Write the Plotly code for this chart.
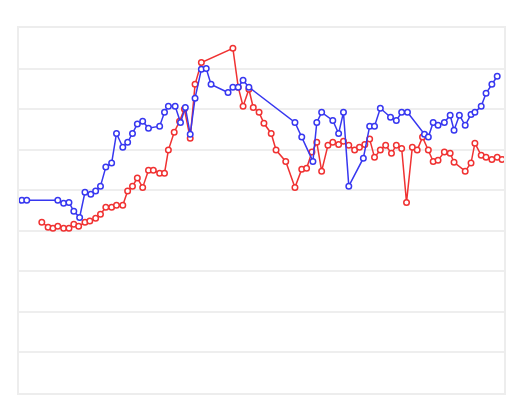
import plotly.graph_objects as go

blue_x = [0.6, 1.6, 8.0, 9.2, 10.3, 11.3, 12.5, 13.6, 14.8, 15.8,
          16.8, 17.9, 19.1, 20.1, 21.4, 22.4, 23.4, 24.4, 25.5, 26.7,
          29.0, 30.0, 30.8, 32.2, 33.3, 34.3, 35.3, 36.3, 37.6, 38.6,
          39.6, 43.1, 44.1, 45.2, 46.2, 47.4, 56.9, 58.3, 60.6, 61.4,
          62.4, 64.7, 65.9, 66.9, 68.0, 71.0, 72.3, 73.3, 74.5, 76.6,
          77.8, 78.9, 80.1, 83.6, 84.4, 85.4, 86.4, 87.7, 88.9, 89.7,
          90.8, 92.0, 93.2, 94.0, 95.3, 96.3, 97.5, 98.6]
blue_y = [4.75, 4.75, 4.75, 4.68, 4.70, 4.48, 4.33, 4.95, 4.90, 4.98,
          5.10, 5.57, 5.67, 6.40, 6.06, 6.18, 6.40, 6.63, 6.70, 6.53,
          6.58, 6.92, 7.07, 7.07, 6.67, 7.04, 6.38, 7.27, 7.98, 8.00,
          7.61, 7.41, 7.54, 7.54, 7.71, 7.54, 6.67, 6.31, 5.71, 6.67,
          6.92, 6.72, 6.40, 6.92, 5.10, 5.79, 6.58, 6.58, 7.02, 6.80,
          6.72, 6.92, 6.92, 6.38, 6.31, 6.67, 6.60, 6.67, 6.85, 6.48,
          6.85, 6.60, 6.87, 6.92, 7.07, 7.39, 7.61, 7.81]

red_x = [4.7, 6.0, 7.0, 8.0, 9.2, 10.3, 11.3, 12.3, 13.6, 14.6,
         15.8, 16.8, 17.9, 19.1, 20.1, 21.4, 22.4, 23.4, 24.4, 25.5,
         26.7, 27.7, 29.0, 30.0, 30.8, 32.0, 33.1, 34.1, 35.3, 36.3,
         37.6, 44.1, 45.2, 46.2, 47.4, 48.3, 49.5, 50.5, 52.0, 53.0,
         55.0, 56.9, 58.3, 59.3, 60.4, 61.4, 62.4, 63.7, 64.7, 65.9,
         66.9, 68.0, 69.2, 70.2, 71.3, 72.3, 73.3, 74.5, 75.6, 76.8,
         77.8, 78.9, 79.9, 81.1, 82.1, 83.2, 84.4, 85.4, 86.4, 87.7,
         88.9, 89.7, 92.0, 93.2, 94.0, 95.3, 96.3, 97.5, 98.6, 99.6]
red_y = [4.21, 4.09, 4.06, 4.11, 4.06, 4.06, 4.16, 4.11, 4.21, 4.24,
         4.31, 4.41, 4.58, 4.58, 4.63, 4.63, 4.98, 5.10, 5.30, 5.07,
         5.49, 5.49, 5.42, 5.42, 5.99, 6.43, 6.70, 7.00, 6.28, 7.61,
         8.15, 8.50, 7.54, 7.07, 7.49, 7.04, 6.92, 6.65, 6.40, 5.99,
         5.71, 5.07, 5.52, 5.54, 5.94, 6.18, 5.47, 6.11, 6.18, 6.13,
         6.21, 6.11, 5.99, 6.06, 6.13, 6.26, 5.81, 5.99, 6.11, 5.91,
         6.11, 6.03, 4.70, 6.06, 5.99, 6.31, 5.99, 5.71, 5.74, 5.94,
         5.91, 5.69, 5.47, 5.67, 6.16, 5.86, 5.81, 5.76, 5.81, 5.76]

RED = "rgb(240,50,50)"
BLUE = "rgb(55,55,240)"

fig = go.Figure()
fig.add_trace(go.Scatter(
    x=red_x, y=red_y, mode="lines+markers",
    line=dict(color=RED, width=1.5),
    marker=dict(symbol="circle", size=5.5, color="white",
                line=dict(color=RED, width=1.5)),
    showlegend=False, hoverinfo="skip"))
fig.add_trace(go.Scatter(
    x=blue_x, y=blue_y, mode="lines+markers",
    line=dict(color=BLUE, width=1.5),
    marker=dict(symbol="circle", size=5.5, color="white",
                line=dict(color=BLUE, width=1.5)),
    showlegend=False, hoverinfo="skip"))

fig.update_layout(
    width=518, height=410,
    margin=dict(l=11, r=22, t=20, b=25),
    paper_bgcolor="white", plot_bgcolor="white",
    xaxis=dict(range=[0, 100], showgrid=False, zeroline=False,
               showticklabels=False, ticks="",
               showline=True, mirror=True, linecolor="#ededed", linewidth=1.5),
    yaxis=dict(range=[0, 9], dtick=1, showgrid=True, gridcolor="#eeeeee",
               gridwidth=1.5, zeroline=False, showticklabels=False, ticks="",
               showline=True, mirror=True, linecolor="#ededed", linewidth=1.5),
)

fig.write_html("out.html")
